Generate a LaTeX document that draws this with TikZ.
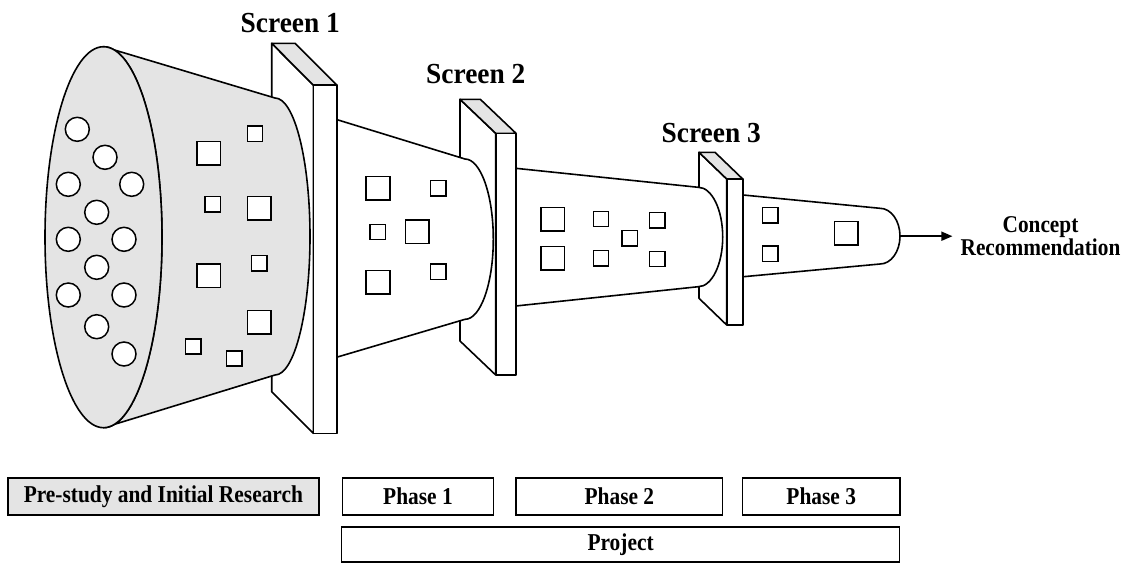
\documentclass[tikz,border=0pt]{standalone}
\usepackage{fontspec}
\setmainfont{Liberation Serif}
\usetikzlibrary{arrows.meta}

\definecolor{shade}{RGB}{228,228,228}
% lettering is set slightly taller than the font's natural shape
\newcommand{\tallA}[1]{\scalebox{1}[1.06]{#1}}
\newcommand{\tallB}[1]{\scalebox{1}[1.13]{#1}}

\begin{document}
\begin{tikzpicture}[x=1pt,y=-1pt,
  outline/.style={draw=black,line width=1.6pt,line join=round},
  panel/.style={outline,fill=white},
  topface/.style={outline,fill=shade},
  bigsq/.style={draw=black,line width=1.5pt,fill=white},
  dot/.style={draw=black,line width=1.5pt,fill=white},
  screenlabel/.style={font=\fontsize{27.4}{30}\selectfont\bfseries,anchor=base,inner sep=0pt},
  phasebox/.style={draw=black,line width=1.3pt,minimum height=37pt,inner sep=0pt,
    font=\fontsize{21.4}{24}\selectfont\bfseries},
  flow/.style={line width=1.6pt,-{Triangle[length=11pt,width=9pt]}}]
\useasboundingbox (0,0) rectangle (1126,563);

% ---- screens: side panels and top faces (behind the funnel) ----
\draw[panel] (271.7,43.3) -- (313.3,85) -- (313.3,433.3) -- (271.7,391.7) -- cycle;
\draw[topface] (271.7,43.3) -- (295,43.3) -- (336.7,85) -- (313.3,85) -- cycle;
\draw[panel] (460,99.3) -- (495.7,133.3) -- (495.7,375) -- (460,341) -- cycle;
\draw[topface] (460,99.3) -- (480.3,99.3) -- (516,133.3) -- (495.7,133.3) -- cycle;
\draw[panel] (699,152.3) -- (726.7,179) -- (726.7,325) -- (699,298.3) -- cycle;
\draw[topface] (699,152.3) -- (715,152.3) -- (742.7,179) -- (726.7,179) -- cycle;

% ---- funnel section 1 (shaded) ----
\draw[outline,fill=shade] (103.5,46.7) -- (275,98)
  arc[start angle=-90,end angle=90,x radius=35,y radius=138.5]
  -- (103.5,427.7)
  arc[start angle=90,end angle=-90,x radius=58.5,y radius=190.5] -- cycle;
\draw[outline,fill=shade] (103.5,237.2) ellipse [x radius=58.5,y radius=190.5];

% ---- funnel sections 2 to 4 ----
\draw[outline,fill=white] (330,117.5) -- (465,159)
  arc[start angle=-90,end angle=90,x radius=28.3,y radius=80.15]
  -- (330,359.2) -- cycle;
\draw[outline,fill=white] (510,167.7) -- (698.3,187.3)
  arc[start angle=-90,end angle=90,x radius=24.4,y radius=49.7]
  -- (510,306.6) -- cycle;
\draw[outline,fill=white] (736,194.3) -- (880,208.3)
  arc[start angle=-90,end angle=90,x radius=20,y radius=27.85]
  -- (736,277.4) -- cycle;
\coordinate (tip) at (900,236.2);

% ---- screens: front faces ----
\draw[panel] (313.3,85) rectangle (336.7,433.3);
\draw[panel] (495.7,133.3) rectangle (516,375);
\draw[panel] (726.7,179) rectangle (742.7,325);

% ---- ideas entering the funnel ----
\foreach \x/\y in {77.3/129.3,105/157.3,68.3/184.3,131.7/184.3,96.7/212.3,
  68.3/239.3,124/239.3,96.7/267.3,68.3/295,124/295,96.7/326.7,124/354}
  \draw[dot] (\x,\y) circle (12);

% large concepts
\foreach \x/\y in {208.7/153.3,259.3/208.3,208.7/275.7,259.3/322.3,
  378/188.3,417.3/231.7,378/282.3,
  552.7/219.3,552.7/258.3,
  846.3/233.3}
  \draw[bigsq] (\x-11.8,\y-11.8) rectangle ++(23.6,23.6);

% small concepts
\foreach \x/\y in {255/133.7,212.7/204.2,259.3/263.3,193.2/346.5,234.2/358.5,
  438.3/188.3,377.7/232,438.3/271.8,
  601/219,601/258.3,629.7/238.3,657.3/220.3,657.3/259,
  770.3/215.3,770.3/253.7}
  \draw[bigsq] (\x-7.6,\y-7.6) rectangle ++(15.2,15.2);

% ---- labels ----
\node[screenlabel] (scr1) at (290.3,32.3) {\tallA{Screen 1}};
\node[screenlabel] (scr2) at (475.8,83.3) {\tallA{Screen 2}};
\node[screenlabel] (scr3) at (711.2,142.3) {\tallA{Screen 3}};

\node[align=center,inner sep=0pt,font=\fontsize{21.3}{23.3}\selectfont\bfseries]
  (rec) at (1040.5,236.2) {\tallB{Concept}\\\tallB{Recommendation}};
\draw[flow,shorten >=8pt] (tip) -- (rec.west);

% ---- project timeline ----
\node[phasebox,fill=shade,minimum width=310.9pt] (pre) at (163.4,496.5) {\tallB{Pre-study and Initial Research}};
\node[phasebox,fill=white,minimum width=151.5pt] (ph1) at (418,496.5) {\tallB{Phase 1}};
\node[phasebox,fill=white,minimum width=206.8pt] (ph2) at (619.4,496.5) {\tallB{Phase 2}};
\node[phasebox,fill=white,minimum width=157.3pt] (ph3) at (821.2,496.5) {\tallB{Phase 3}};
\node[phasebox,fill=white,minimum width=558.3pt,minimum height=35pt] (proj) at (620.6,544.5) {\tallB{Project}};
\end{tikzpicture}
\end{document}
